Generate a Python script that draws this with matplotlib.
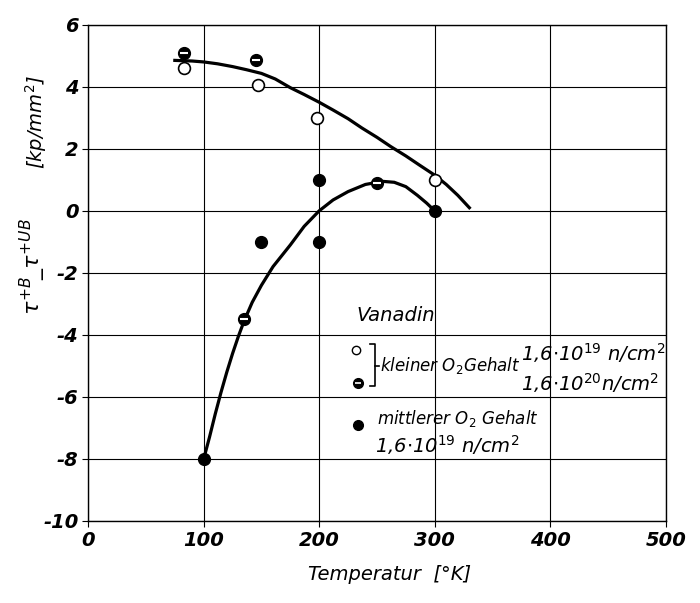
import numpy as np
import matplotlib
matplotlib.use("Agg")
import matplotlib.pyplot as plt

# measured points, Vanadin
open_T = [83, 147, 198, 300]          # kleiner O2 Gehalt, 1.6e19
open_tau = [4.6, 4.05, 3.0, 1.0]
half_T = [83, 145, 250, 135]          # kleiner O2 Gehalt, 1.6e20
half_tau = [5.1, 4.85, 0.9, -3.5]
full_T = [150, 200, 200, 300, 100]    # mittlerer O2 Gehalt, 1.6e19
full_tau = [-1.0, 1.0, -1.0, 0.0, -8.0]

# hand drawn curves
upper_T = [75, 90, 100, 112, 125, 137, 150, 162, 175, 187, 200, 212, 225, 237,
           250, 262, 275, 287, 300, 310, 320, 330]
upper_tau = [4.85, 4.83, 4.8, 4.74, 4.65, 4.55, 4.43, 4.25, 3.97, 3.75, 3.5, 3.25,
             2.97, 2.67, 2.37, 2.07, 1.77, 1.47, 1.15, 0.85, 0.5, 0.1]
lower_T = [100, 105, 110, 115, 120, 125, 130, 135, 142, 150, 160, 175, 187, 200,
           212, 225, 240, 255, 265, 275, 285, 293, 300]
lower_tau = [-8.0, -7.3, -6.55, -5.85, -5.2, -4.6, -4.05, -3.55, -2.95, -2.4, -1.8,
             -1.1, -0.5, 0.0, 0.35, 0.62, 0.85, 0.95, 0.92, 0.78, 0.5, 0.25, 0.0]

x_ticks = [0, 100, 200, 300, 400, 500]
y_ticks = [6, 4, 2, 0, -2, -4, -6, -8, -10]

plt.rcParams['font.family'] = ['DejaVu Sans']
plt.rcParams['mathtext.fontset'] = 'dejavusans'

fig = plt.figure(figsize=(7.0, 6.03), dpi=100)
ax = fig.add_axes([0.126, 0.136, 0.825, 0.823])

ax.set_xlim(0, 500)
ax.set_ylim(-10, 6)
ax.set_xticks(x_ticks)
ax.set_yticks(y_ticks)
ax.set_xticklabels([str(t) for t in x_ticks], fontsize=14, style='italic', weight='bold')
ax.set_yticklabels([str(t) for t in y_ticks], fontsize=14, style='italic', weight='bold')
ax.tick_params(direction='out', length=4, width=0.8, pad=3)
ax.grid(True, color='black', linewidth=0.8)
for s in ax.spines.values():
    s.set_linewidth(1.0)

# curves
ax.plot(upper_T, upper_tau, color='black', lw=2.3, zorder=3, solid_joinstyle='round')
ax.plot(lower_T, lower_tau, color='black', lw=2.3, zorder=3, solid_joinstyle='round')

# markers
ms = 8.5
ax.plot(open_T, open_tau, 'o', ms=ms, mfc='white', mec='black', mew=1.2, zorder=4)
ax.plot(half_T, half_tau, 'o', ms=ms, mfc='black', mec='black', zorder=4)
ax.plot(half_T, half_tau, '_', ms=ms * 0.7, mec='white', mew=1.5, zorder=5)
ax.plot(full_T, full_tau, 'o', ms=ms, mfc='black', mec='black', zorder=4)

# legend drawn as in the original
ax.text(232, -3.55, 'Vanadin', fontsize=14, style='italic')
ax.plot([232], [-4.5], 'o', ms=6, mfc='white', mec='black', mew=1.0, clip_on=False)
ax.plot([234], [-5.55], 'o', ms=7, mfc='black', mec='black', clip_on=False)
ax.plot([234], [-5.55], '_', ms=4, mec='white', mew=1.2, clip_on=False)
ax.plot([244, 248, 248, 244], [-4.3, -4.3, -5.65, -5.65], color='black', lw=1.2)
ax.plot([248, 252], [-5.0, -5.0], color='black', lw=1.2)
ax.text(253, -5.0, r'kleiner O$_2$Gehalt', fontsize=12, style='italic', va='center')
ax.text(375, -4.6, r'1,6$\cdot$10$^{19}$ n/cm$^2$', fontsize=14, style='italic', va='center')
ax.text(375, -5.55, r'1,6$\cdot$10$^{20}$n/cm$^2$', fontsize=14, style='italic', va='center')
ax.plot([234], [-6.9], 'o', ms=7, mfc='black', mec='black')
ax.text(250, -6.7, r'mittlerer O$_2$ Gehalt', fontsize=12, style='italic', va='center')
ax.text(248, -7.55, r'1,6$\cdot$10$^{19}$ n/cm$^2$', fontsize=14, style='italic', va='center')

# axis labels
fig.text(390 / 700, 1 - 575 / 603, r'Temperatur  [°K]', fontsize=14, style='italic',
         ha='center', va='center')
fig.text(33 / 700, 1 - 267 / 603, r'$\tau^{+B}\!\_\tau^{+UB}$', fontsize=16, rotation=90,
         ha='center', va='center', weight='bold')
fig.text(36 / 700, 1 - 122 / 603, r'[kp/mm$^2$]', fontsize=14, rotation=90, style='italic',
         ha='center', va='center')

fig.savefig('out.png', dpi=100)
